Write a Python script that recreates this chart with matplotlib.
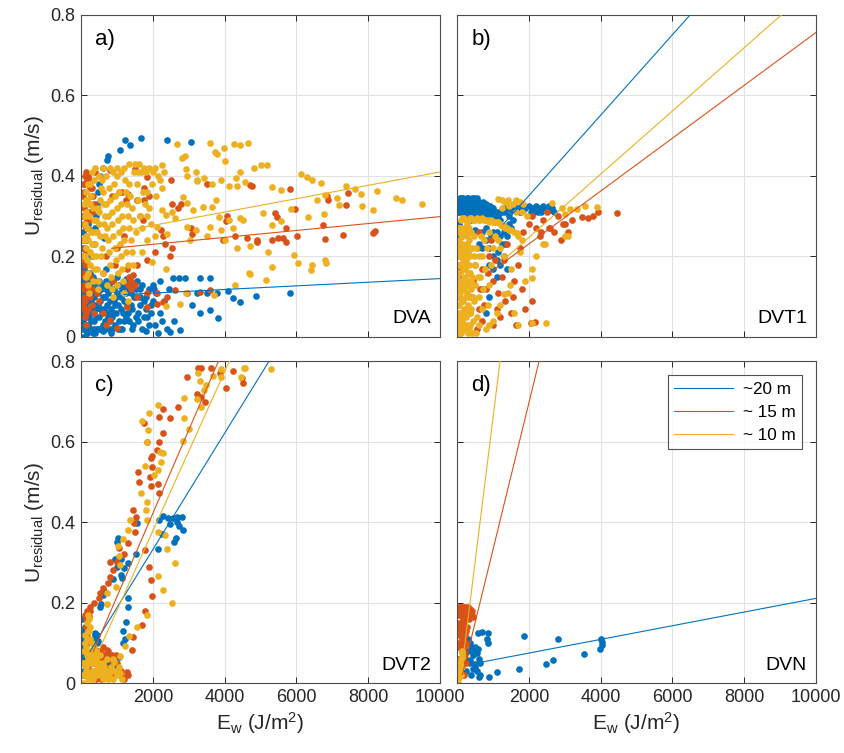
import matplotlib
matplotlib.use("Agg")
import matplotlib.pyplot as plt

plt.rcParams['font.family'] = ['Liberation Sans', 'DejaVu Sans']
plt.rcParams['mathtext.default'] = 'regular'

# colours for the three depths
colors = ['#0072BD', '#D95319', '#EDB120']
labels = ['~20 m', '~ 15 m', '~ 10 m']
panels = ['a)', 'b)', 'c)', 'd)']
sites = ['DVA', 'DVT1', 'DVT2', 'DVN']

# ---- panel a (DVA) ----
a_blue = [(300,0.20),(350,0.23),(400,0.27),(420,0.30),(450,0.33),(480,0.36),(500,0.38),(530,0.40),(620,0.42),
          (710,0.44),(760,0.45),(1090,0.465),(1220,0.49),(1370,0.477),(1660,0.494),(2390,0.489),(3055,0.485),
          (2200,0.14),(2570,0.146),(2720,0.146),(2890,0.146),(3310,0.147),(3590,0.147),(2000,0.13),
          (3220,0.109),(3080,0.08),(3315,0.06),(3590,0.067),(3820,0.047),(2760,0.017),(2480,0.012),(4240,0.097),
          (4430,0.087),(4875,0.103),(5813,0.109),(3800,0.11),(4100,0.115),(3500,0.11),
          (50,0.02),(80,0.05),(120,0.08),(60,0.11),(150,0.13),(100,0.15),(200,0.03),(250,0.06),(230,0.1),
          (300,0.12),(280,0.02),(350,0.04),(380,0.08),(420,0.11),(450,0.14),(400,0.01),(500,0.05),(520,0.09),
          (560,0.12),(600,0.03),(640,0.07),(680,0.1),(700,0.14),(750,0.05),(780,0.02),(820,0.09),(860,0.12),
          (900,0.06),(950,0.03),(980,0.1),(1050,0.13),(1100,0.07),(1150,0.02),(1200,0.09),(1250,0.05),
          (1300,0.12),(1400,0.08),(1450,0.03),(1500,0.1),(1550,0.14),(1600,0.06),(1700,0.02),(1750,0.09),
          (1850,0.05),(1900,0.12),(1950,0.08),(2050,0.03),(2100,0.11),(2200,0.06),(2300,0.09),(2400,0.02),
          (2600,0.04),(2450,0.12),(10,0.02),(20,0.06),(30,0.1),(15,0.14),(40,0.18),(25,0.22),(60,0.04),
          (70,0.08),(90,0.12),(110,0.16),(130,0.2),(160,0.24),(200,0.28),(180,0.01),(190,0.07),(330,0.15),
          (640,0.245),(700,0.17),(1000,0.15),(1250,0.145),(1650,0.12),(2150,0.01),(1800,0.015)]
a_blue_dense = [(30,0.04),(70,0.13),(110,0.03),(140,0.1),(170,0.05),(210,0.14),(240,0.09),(270,0.04),
                (310,0.07),(340,0.11),(370,0.02),(390,0.13),(430,0.05),(470,0.08),(490,0.12),(540,0.02),
                (580,0.06),(610,0.1),(660,0.04),(690,0.12),(720,0.08),(760,0.11),(800,0.04),(840,0.07),
                (880,0.14),(920,0.09),(970,0.06),(1010,0.11),(1060,0.04),(1120,0.1),(1170,0.06),(1220,0.13),
                (1280,0.08),(1330,0.04),(1380,0.11),(1430,0.07),(1480,0.13),(1530,0.05),(50,0.09),(20,0.12),
                (90,0.17),(60,0.2),(130,0.15),(250,0.16),(60,0.26),(160,0.01),(320,0.01),(460,0.02),
                (620,0.015),(850,0.02),(1030,0.02),(1630,0.1),(1800,0.07),(2000,0.09),(2250,0.04),
                (5,0.05),(35,0.08),(55,0.0),(75,0.11),(95,0.03),(115,0.13),(135,0.06),(155,0.09),(175,0.12),
                (195,0.02),(215,0.05),(235,0.13),(255,0.1),(290,0.09),(310,0.13),(360,0.1),(410,0.07),
                (440,0.02),(480,0.11),(510,0.14),(550,0.07),(590,0.13),(630,0.1),(670,0.02),(710,0.06),
                (740,0.12),(790,0.13),(830,0.01),(870,0.05),(910,0.12),(940,0.08),(990,0.13),(1040,0.08),
                (1080,0.02),(1130,0.12),(1190,0.04),(1240,0.11),(1300,0.06),(1350,0.13),(1420,0.02),
                (1470,0.1),(1520,0.12),(1580,0.04),(1640,0.08),(1700,0.13),(1760,0.05),(1820,0.1),
                (1880,0.03),(1960,0.06),(2020,0.12)]
a_orange = [(100,0.40),(150,0.41),(200,0.40),(260,0.39),(300,0.37),(330,0.35),(350,0.33),(300,0.31),(250,0.29),
            (200,0.27),(150,0.25),(120,0.22),(100,0.19),(90,0.16),(80,0.13),(70,0.10),(80,0.07),(100,0.05),
            (150,0.03),(60,0.38),(50,0.35),(40,0.3),(390,0.41),(810,0.415),(1500,0.418),(1830,0.398),
            (2500,0.39),(1756,0.34),(1900,0.35),(2540,0.33),(1740,0.29),(2220,0.266),(2290,0.25),(2340,0.23),
            (2540,0.22),(2490,0.2),(2060,0.21),(1830,0.19),(1550,0.18),(1270,0.17),(960,0.18),(2700,0.32),
            (2780,0.33),(3060,0.27),(3100,0.257),(3510,0.381),(4040,0.287),(4060,0.30),(4710,0.377),
            (3960,0.24),(4290,0.25),(4610,0.246),(4890,0.24),(440,0.108),(500,0.09),(620,0.059),(810,0.042),
            (995,0.022),(1270,0.075),(1550,0.1),(1830,0.108),(2110,0.108),(2390,0.1),(2620,0.116),(2950,0.108),
            (3310,0.112),(3590,0.116),(2110,0.083),(2290,0.087),(1830,0.075),(1300,0.13),(1350,0.15),
            (1400,0.14),(1450,0.155),(1500,0.13),(1380,0.12),(4755,0.375),(5822,0.367),(5961,0.317),
            (5404,0.307),(5468,0.297),(5710,0.271),(4894,0.237),(5312,0.24),(5496,0.246),(5635,0.246),
            (5700,0.237),(6025,0.25),(6732,0.278),(6797,0.243),(6871,0.34),(6850,0.35),(7428,0.357),
            (7382,0.327),(7289,0.253),(8142,0.259),(8190,0.264),(250,0.15),(300,0.12),(350,0.06),(700,0.03)]
a_orange_band = [(120,0.38),(180,0.39),(240,0.37),(280,0.35),(260,0.33),(220,0.31),(180,0.29),(140,0.27),
                 (110,0.24),(130,0.21),(110,0.18),(120,0.15),(100,0.12),(110,0.09),(130,0.06),(60,0.08),
                 (50,0.12),(40,0.16),(50,0.2),(60,0.24),(70,0.28),(80,0.32),(90,0.36),(200,0.07),(250,0.1),
                 (300,0.08),(200,0.12),(850,0.35),(1050,0.36),(1300,0.355),(1550,0.34),(1750,0.37),
                 (1650,0.30),(1200,0.25),(1000,0.22),(700,0.2),(600,0.16),(900,0.14),(1150,0.36),(1250,0.34)]
a_yellow = [(2666,0.48),(3590,0.481),(3730,0.46),(3980,0.47),(4260,0.479),(4440,0.478),(4650,0.481),
            (2800,0.444),(2900,0.45),(3800,0.455),(4000,0.437),(4440,0.411),(4820,0.419),(5190,0.427),
            (2260,0.427),(2300,0.41),(2920,0.418),(2960,0.40),(3190,0.41),(3230,0.39),(3240,0.387),
            (3420,0.395),(3660,0.38),(3890,0.39),(4310,0.395),(4130,0.376),(4350,0.375),(4580,0.385),
            (2260,0.369),(2840,0.349),(2940,0.332),(3120,0.316),(3400,0.324),(3660,0.324),(3750,0.34),
            (3850,0.299),(4130,0.29),(4420,0.295),(4510,0.29),(2260,0.316),(2360,0.304),(2540,0.31),
            (2620,0.295),(2940,0.274),(3210,0.266),(3590,0.274),(3900,0.266),(4240,0.27),(4720,0.225),
            (4350,0.221),(4000,0.24),(3500,0.25),(3040,0.24),(2400,0.257),(2110,0.274),(1830,0.24),
            (1690,0.21),(1970,0.186),(2360,0.17),(2760,0.082),(2360,0.078),(2930,0.108),(3700,0.105),
            (4280,0.129),(4700,0.157),(5005,0.428),(5312,0.372),(5562,0.364),(6120,0.406),(6290,0.398),
            (6440,0.39),(6685,0.382),(6790,0.353),(6580,0.34),(7140,0.345),(7180,0.327),(7390,0.375),
            (7620,0.368),(7810,0.354),(7830,0.325),(8120,0.315),(8240,0.362),(8760,0.346),(8950,0.34),
            (9508,0.33),(5080,0.309),(5330,0.278),(5560,0.289),(5840,0.318),(6330,0.297),(6760,0.305),
            (5218,0.21),(5930,0.204),(6030,0.185),(5310,0.174),(4690,0.158),(5150,0.142),(6440,0.18),
            (6400,0.166),(6800,0.19),(6820,0.185)]
a_yellow_band = [(100,0.28),(130,0.25),(150,0.22),(170,0.19),(190,0.16),(200,0.13),(210,0.11),(230,0.3),
                 (260,0.33),(290,0.35),(320,0.32),(350,0.29),(380,0.26),(400,0.23),(420,0.2),(440,0.17),
                 (460,0.14),(480,0.12),(500,0.31),(530,0.34),(560,0.37),(590,0.39),(620,0.36),(650,0.33),
                 (680,0.3),(710,0.27),(740,0.24),(770,0.21),(800,0.18),(830,0.15),(860,0.12),(900,0.41),
                 (930,0.38),(960,0.35),(990,0.32),(1020,0.29),(1050,0.26),(1080,0.23),(1110,0.2),(1140,0.17),
                 (1170,0.14),(1200,0.42),(1230,0.39),(1260,0.36),(1290,0.33),(1320,0.3),(1350,0.27),(1380,0.24),
                 (1410,0.21),(1440,0.18),(1470,0.41),(1500,0.43),(1550,0.38),(1600,0.34),(1650,0.3),(1700,0.27),
                 (1750,0.42),(1800,0.41),(1850,0.36),(1900,0.32),(1950,0.28),(2000,0.41),(2050,0.25),(2100,0.35),
                 (150,0.31),(180,0.34),(120,0.2),(140,0.15),(300,0.41),(400,0.42),(700,0.4),(600,0.42),
                 (250,0.18),(330,0.14),(550,0.2),(610,0.16),(720,0.13),(900,0.1),(1000,0.13),(1200,0.11),
                 (1300,0.09),(1000,0.42),(1100,0.41),(1350,0.43),(80,0.24),(60,0.2),(90,0.33),
                 (160,0.27),(200,0.24),(240,0.21),(270,0.26),(310,0.23),(340,0.2),(370,0.17),(410,0.29),
                 (450,0.26),(470,0.32),(510,0.28),(540,0.25),(580,0.22),(630,0.28),(660,0.25),(700,0.33),
                 (750,0.3),(780,0.37),(820,0.34),(850,0.31),(870,0.28),(890,0.25),(940,0.22),(980,0.19),
                 (1030,0.16),(1060,0.36),(1100,0.33),(1130,0.3),(1160,0.27),(1190,0.24),(1250,0.21),
                 (1300,0.18),(1330,0.38),(1370,0.35),(1420,0.32),(1460,0.29),(1530,0.26),(1580,0.41),
                 (1620,0.43),(1680,0.41),(1720,0.36),(1780,0.33),(1830,0.3),(1900,0.42),(1980,0.38),
                 (2050,0.42),(2150,0.4),(2200,0.39),(250,0.38),(350,0.39),(500,0.4),(800,0.42),(1000,0.4),
                 (110,0.3),(130,0.34),(150,0.36),(200,0.38),(300,0.26)]

# ---- panel b (DVT1) ----
b_blue = [(30,0.34),(100,0.345),(200,0.34),(300,0.335),(400,0.34),(500,0.33),(600,0.335),(700,0.325),
          (800,0.33),(900,0.32),(60,0.31),(150,0.32),(250,0.31),(350,0.305),(450,0.31),(550,0.3),
          (650,0.305),(750,0.3),(850,0.295),(950,0.3),(1050,0.295),(1200,0.31),(1300,0.32),(1400,0.32),
          (1500,0.315),(1700,0.32),(1800,0.325),(1900,0.32),(2000,0.325),(2100,0.32),(2200,0.325),
          (2300,0.32),(2450,0.32),(2600,0.315),(2700,0.31),(20,0.05),(40,0.1),(30,0.15),(50,0.2),
          (20,0.25),(60,0.28),(80,0.02),(90,0.12),(100,0.22),(700,0.26),(800,0.24),(900,0.22),(1000,0.2),
          (1100,0.19),(1150,0.21),(1300,0.2),(1250,0.23),(950,0.25),(600,0.23),(1400,0.25),(1500,0.27),
          (700,0.12),(800,0.06),(900,0.1),(1400,0.17),(200,0.3),(400,0.29),(1100,0.26),(1200,0.29)]
b_blue_strip = [(50,0.325),(120,0.33),(170,0.345),(230,0.325),(280,0.345),(330,0.32),(380,0.33),(430,0.325),
                (480,0.345),(530,0.32),(580,0.325),(630,0.32),(680,0.31),(730,0.315),(780,0.31),(830,0.315),
                (880,0.305),(930,0.31),(980,0.31),(1000,0.32),(1100,0.31),(1150,0.3),(1250,0.31),(1350,0.31),
                (1450,0.3),(1550,0.32),(1600,0.325),(1750,0.31),(1850,0.315),(2050,0.31),(2150,0.31),
                (2250,0.31),(2350,0.31),(2400,0.325),(2550,0.325),(2650,0.32),(300,0.27),(500,0.265),
                (700,0.22),(800,0.27),(1000,0.26),(1200,0.25),(1300,0.26),(1350,0.23),(1200,0.18),
                (1000,0.17),(1100,0.15),(900,0.18),(1450,0.28),(1550,0.29),
                (10,0.33),(70,0.345),(140,0.34),(190,0.33),(260,0.335),(310,0.345),(360,0.33),(410,0.345),
                (460,0.33),(510,0.34),(560,0.345),(610,0.33),(660,0.325),(710,0.335),(760,0.32),(810,0.325),
                (860,0.32),(910,0.325),(960,0.32),(40,0.32),(90,0.31),(130,0.315),(180,0.31),(270,0.3),
                (320,0.31),(420,0.3),(470,0.32),(520,0.31),(570,0.31),(620,0.305),(720,0.305)]
b_orange = [(50,0.02),(100,0.05),(150,0.09),(80,0.13),(120,0.17),(200,0.21),(150,0.25),(250,0.27),
            (300,0.02),(350,0.06),(400,0.1),(450,0.14),(500,0.18),(550,0.22),(600,0.26),(700,0.04),
            (750,0.08),(800,0.12),(850,0.16),(900,0.2),(950,0.24),(1000,0.03),(1100,0.07),(1150,0.11),
            (1250,0.15),(1300,0.19),(1400,0.23),(1500,0.06),(1550,0.1),(1600,0.14),(1700,0.18),(1750,0.22),
            (1850,0.26),(2000,0.28),(2100,0.3),(2200,0.27),(2300,0.25),(2400,0.29),(2500,0.31),(2600,0.27),
            (2700,0.26),(2800,0.3),(2900,0.24),(3000,0.28),(3100,0.26),(3200,0.29),(3473,0.299),
            (3659,0.296),(3800,0.3),(3938,0.31),(4465,0.307),(2945,0.28),(2570,0.27),(2340,0.26),
            (2173,0.038),(2050,0.035),(1900,0.07),(2100,0.09),(1800,0.12),(1650,0.03),
            (650,0.12),(700,0.17),(1000,0.14),(1050,0.19),(1200,0.05),(1350,0.09),(600,0.07),(550,0.02)]
b_yellow = [(10,0.0),(30,0.02),(50,0.04),(20,0.06),(60,0.08),(10,0.1),(40,0.12),(70,0.14),(20,0.16),
            (50,0.18),(80,0.2),(30,0.22),(60,0.24),(20,0.26),(90,0.27),(120,0.01),(150,0.05),(180,0.09),
            (130,0.13),(160,0.17),(190,0.21),(140,0.25),(220,0.03),(250,0.07),(280,0.11),(230,0.15),
            (260,0.19),(290,0.23),(320,0.02),(350,0.06),(380,0.12),(330,0.18),(360,0.22),(400,0.26),
            (450,0.04),(480,0.09),(430,0.15),(470,0.2),(520,0.01),(560,0.05),(600,0.1),(650,0.15),
            (700,0.2),(750,0.24),(800,0.02),(850,0.08),(900,0.13),(950,0.18),(1000,0.22),
            (100,0.29),(200,0.295),(300,0.29),(400,0.295),(500,0.29),(600,0.29),(700,0.295),(800,0.29),
            (900,0.285),(1000,0.285),(1100,0.285),(1200,0.28),(1300,0.275),(1400,0.27),(1500,0.265),
            (1600,0.26),(1700,0.25),(1800,0.24),(1150,0.344),(1250,0.34),(1350,0.335),(1430,0.34),
            (1550,0.33),(1650,0.34),(1755,0.336),(1850,0.33),(1250,0.32),(1450,0.325),(1650,0.31),
            (1800,0.31),(1950,0.3),(2640,0.332),(2915,0.32),(3150,0.318),(3340,0.318),(3570,0.326),
            (3890,0.324),(3000,0.305),(1660,0.258),(1750,0.21),(2080,0.17),(2080,0.146),(1900,0.14),
            (1470,0.13),(1300,0.106),(1200,0.08),(1100,0.06),(1000,0.04),(2080,0.034),(2490,0.034),
            (2390,0.23),(3000,0.25),(3100,0.25),(2450,0.23),(2200,0.2),(1430,0.109),(1500,0.17),
            (1300,0.2),(1200,0.22),(900,0.03),(1600,0.06),(1700,0.03)]
b_yellow_block = [(5,0.03),(15,0.08),(25,0.13),(35,0.18),(45,0.23),(55,0.27),(65,0.01),(75,0.06),(85,0.11),
                  (95,0.16),(105,0.21),(115,0.26),(125,0.04),(135,0.09),(145,0.14),(155,0.19),(165,0.23),
                  (175,0.27),(185,0.02),(195,0.07),(205,0.12),(215,0.17),(225,0.22),(235,0.26),(245,0.05),
                  (255,0.1),(265,0.14),(275,0.2),(285,0.25),(295,0.01),(305,0.08),(315,0.13),(325,0.24),
                  (335,0.27),(345,0.1),(355,0.16),(365,0.03),(375,0.2),(385,0.07),(395,0.14),(410,0.22),
                  (420,0.01),(440,0.1),(460,0.25),(490,0.13),(510,0.18),(540,0.22),(580,0.15),(620,0.2),
                  (660,0.25),(720,0.12),(780,0.17),(830,0.22),(880,0.26),(1050,0.25),(1150,0.24),(620,0.03),
                  (700,0.07),(150,0.295),(250,0.29),(350,0.295),(450,0.29),(550,0.295),(650,0.29),(750,0.29),
                  (850,0.29),(950,0.29),(1050,0.285),(1150,0.285),(1250,0.275),(1350,0.27),(1450,0.265),
                  (0,0.05),(10,0.15),(20,0.2),(30,0.27),(40,0.05),(70,0.18),(80,0.1),(100,0.03),(110,0.13),
                  (150,0.22),(170,0.12),(200,0.26),(210,0.06),(240,0.18),(270,0.03),(280,0.28),(300,0.16),
                  (310,0.21),(330,0.06),(350,0.26)]

# ---- panel c (DVT2) ----
c_blue = [(2806,0.414),(2660,0.414),(2560,0.41),(2280,0.416),(2160,0.406),(2420,0.41),(2480,0.395),
          (2680,0.4),(2740,0.39),(2830,0.381),(2600,0.35),(2640,0.361),(2260,0.37),(2150,0.333),
          (1550,0.398),(1520,0.32),(1300,0.3),(1200,0.287),(1140,0.262),(1100,0.27),(1030,0.36),
          (1000,0.35),(950,0.31),(570,0.198),(540,0.19),(400,0.125),(420,0.113),(470,0.105),(1320,0.211),
          (1320,0.19),(1240,0.153),(1180,0.131),(1230,0.111),(1180,0.099),(1060,0.066),(710,0.071),
          (700,0.05),(720,0.04),(20,0.02),(40,0.05),(60,0.09),(80,0.12),(100,0.14),(50,0.07),(30,0.11),
          (400,0.12),(450,0.1),(420,0.11),(600,0.06),(700,0.07),(800,0.05),(900,0.06),(1000,0.04),
          (350,0.06),(600,0.22),(650,0.23),(900,0.26),(1000,0.29),(1100,0.31),
          (10,0.03),(15,0.08),(25,0.13),(35,0.16),(60,0.12),(70,0.02),(90,0.06),(110,0.09),(150,0.04),
          (130,0.12),(380,0.1),(440,0.12),(460,0.08),(350,0.11)]
c_orange = [(3268,0.784),(3350,0.784),(3612,0.783),(3870,0.77),(4240,0.777),(4470,0.758),(4500,0.746),
            (4030,0.733),(2944,0.76),(3220,0.719),(3330,0.712),(3447,0.7),(2713,0.686),(2480,0.658),
            (2290,0.682),(2180,0.662),(2275,0.621),(2180,0.599),(1750,0.646),(1830,0.6),(2110,0.58),
            (1990,0.565),(1940,0.56),(1980,0.537),(1920,0.513),(2150,0.494),(1960,0.49),(2160,0.472),
            (1600,0.524),(1620,0.5),(1440,0.43),(1530,0.414),(1480,0.397),(1510,0.376),(1300,0.349),
            (1060,0.335),(1200,0.322),(1010,0.302),(810,0.302),(900,0.282),(810,0.265),(765,0.249),
            (625,0.236),(530,0.224),(490,0.211),(370,0.2),(260,0.179),(210,0.166),(1780,0.33),(1900,0.29),
            (1940,0.257),(1970,0.216),(1780,0.18),(1690,0.145),(1460,0.116),(1420,0.083),(1270,0.029),
            (1180,0.016),(530,0.08),(720,0.082),(300,0.02),(400,0.05),(500,0.03),(600,0.07),(700,0.04),
            (800,0.06),(900,0.02),(1000,0.05),(1100,0.03),(1200,0.01),(350,0.08),(450,0.06),(550,0.01),
            (650,0.02),(750,0.08),(850,0.07),(200,0.1),(150,0.14),(100,0.17),(250,0.03),
            (200,0.04),(280,0.07),(380,0.03),(480,0.08),(580,0.05),(680,0.07),(780,0.03),(880,0.05),
            (980,0.07),(1080,0.02),(1300,0.02),(320,0.05),(420,0.01),(520,0.06),(620,0.09),(160,0.12),
            (130,0.16),(180,0.18),(240,0.19)]
c_yellow = [(3270,0.77),(3300,0.75),(3680,0.763),(3910,0.78),(3900,0.76),(4530,0.784),(4580,0.784),
            (5290,0.78),(4450,0.76),(3230,0.707),(3350,0.686),(3430,0.729),(3480,0.74),(2860,0.709),
            (2860,0.658),(3000,0.631),(2830,0.603),(2140,0.692),(1900,0.672),(1700,0.652),(1860,0.63),
            (1830,0.6),(2200,0.575),(2290,0.571),(2230,0.551),(2020,0.517),(2150,0.53),(1770,0.539),
            (1680,0.472),(1830,0.451),(1810,0.43),(1830,0.406),(1370,0.406),(1320,0.381),(1180,0.358),
            (1020,0.34),(1070,0.315),(1090,0.294),(980,0.24),(720,0.224),(720,0.196),(2150,0.376),
            (2330,0.368),(2390,0.333),(2620,0.299),(2150,0.266),(2290,0.232),(2520,0.2),(1830,0.17),
            (1550,0.141),(1330,0.117),(1230,0.092),(1090,0.067),(910,0.054),(1090,0.025),
            (50,0.0),(100,0.02),(150,0.04),(200,0.06),(250,0.08),(300,0.1),(120,0.12),(160,0.15),
            (200,0.17),(80,0.08),(350,0.05),(400,0.03),(450,0.02),(500,0.05),(550,0.03),(600,0.01),
            (650,0.04),(700,0.02),(750,0.01),(800,0.03),(900,0.01),(1000,0.02),(300,0.03),(200,0.01),
            (250,0.14),(180,0.11),(220,0.13),(230,0.16),(120,0.05),(280,0.06),(330,0.02),(380,0.07),
            (130,0.03),(170,0.07),(210,0.02),(260,0.05),(310,0.07),(360,0.09),(410,0.06),(460,0.04),
            (520,0.07),(570,0.02),(620,0.05),(680,0.03),(730,0.06),(780,0.02),(840,0.04),(880,0.06),
            (950,0.03),(1050,0.04),(1150,0.01),(140,0.09),(190,0.13),(100,0.1),(60,0.05),(40,0.02),
            (240,0.11),(270,0.01),(340,0.01),(430,0.08)]

# ---- panel d (DVN) ----
d_blue = [(100,0.02),(150,0.04),(200,0.06),(250,0.03),(300,0.08),(350,0.05),(400,0.09),(450,0.07),
          (500,0.04),(550,0.03),(600,0.06),(650,0.05),(200,0.1),(300,0.11),(350,0.1),(500,0.09),
          (150,0.08),(400,0.02),(600,0.015),(891,0.016),(1124,0.027),(1735,0.036),(1877,0.118),
          (2478,0.048),(2680,0.059),(2825,0.111),(3538,0.072),(3985,0.084),(4030,0.095),(4030,0.103),
          (4010,0.11),(594,0.126),(700,0.128),(873,0.124),(830,0.111),(850,0.1),(594,0.086),(455,0.078),
          (365,0.057),(500,0.048),(455,0.036),(545,0.075),(263,0.057),(650,0.02)]
d_orange = [(10,0.0),(20,0.03),(30,0.06),(40,0.09),(50,0.12),(60,0.15),(70,0.18),(80,0.19),(100,0.17),
            (120,0.14),(140,0.11),(160,0.08),(180,0.05),(200,0.02),(220,0.12),(240,0.16),(260,0.185),
            (300,0.18),(340,0.175),(380,0.17),(420,0.17),(450,0.165),(150,0.19),(200,0.19),(250,0.1),
            (280,0.14),(320,0.16),(100,0.06),(60,0.03),(130,0.02),(230,0.07),(180,0.16),(110,0.1),
            (15,0.05),(25,0.1),(35,0.14),(45,0.17),(55,0.19),(90,0.13),(130,0.08),(150,0.13),(170,0.11),
            (190,0.14),(210,0.17),(230,0.19),(270,0.165),(310,0.19),(350,0.185),(390,0.18),(430,0.18),
            (80,0.09),(70,0.05),(120,0.18),(160,0.17),(200,0.15),(240,0.13),(190,0.09),(250,0.05)]
d_yellow = [(20,0.0),(40,0.01),(60,0.02),(80,0.03),(100,0.045),(120,0.06),(140,0.075),(150,0.08),
            (90,0.05),(70,0.035),(110,0.02),(130,0.04),(50,0.015),(160,0.065)]

# fitted lines: slope, intercept, start of the line
fit_slope = [[4.5e-6, 8.6e-6, 1.66e-5], [1.0e-4, 6.57e-5, 7.86e-5],
             [1.446e-4, 2.07e-4, 1.977e-4], [1.70e-5, 3.645e-4, 7.18e-4]]
fit_icpt = [[0.1, 0.213, 0.244], [0.151, 0.0997, 0.090],
            [0.043, 0.008, -0.0168], [0.041, -0.033, -0.06]]
fit_x0 = [[1200, 850, 1450], [1300, 800, 1300], [250, 340, 400], [594, 150, 130]]

data = [[a_blue + a_blue_dense, a_orange + a_orange_band, a_yellow + a_yellow_band],
        [b_blue + b_blue_strip, b_orange, b_yellow + b_yellow_block],
        [c_blue, c_orange, c_yellow], [d_blue, d_orange, d_yellow]]

fig = plt.figure(figsize=(8.44, 7.53), dpi=100)
pos = [(0.096, 0.5525), (0.5415, 0.5525), (0.096, 0.0926), (0.5415, 0.0926)]

for i in range(4):
    ax = fig.add_axes([pos[i][0], pos[i][1], 0.4254, 0.4276])
    for j in range(3):
        xs = [p[0] for p in data[i][j]]
        ys = [p[1] for p in data[i][j]]
        ax.plot(xs, ys, 'o', color=colors[j], ms=4.8, mec='none', zorder=2)
    for j in range(3):
        m, b, x0 = fit_slope[i][j], fit_icpt[i][j], fit_x0[i][j]
        ax.plot([x0, 10000], [b + m * x0, b + m * 10000], '-', color=colors[j], lw=0.8,
                label=labels[j], zorder=3)
    ax.set_xlim(0, 10000)
    ax.set_ylim(0, 0.8)
    ax.set_xticks([2000, 4000, 6000, 8000, 10000])
    ax.set_yticks([0, 0.2, 0.4, 0.6, 0.8])
    ax.set_yticklabels(['0', '0.2', '0.4', '0.6', '0.8'])
    ax.grid(True, color='#e2e2e2', lw=0.8)
    ax.set_axisbelow(True)
    ax.tick_params(direction='in', top=True, right=True, length=4, width=0.7,
                   labelsize=13, colors='#262626', pad=4)
    for s in ax.spines.values():
        s.set_color('#4d4d4d')
        s.set_linewidth(0.8)
    if i % 2 == 1:
        ax.set_yticklabels([])
    else:
        ax.set_ylabel(r'U$_{residual}$ (m/s)', fontsize=15, color='#262626', labelpad=3)
    if i < 2:
        ax.set_xticklabels([])
    else:
        ax.set_xlabel(r'E$_w$ (J/m$^2$)', fontsize=15, color='#262626', labelpad=3)
    ax.text(0.04, 0.925, panels[i], transform=ax.transAxes, fontsize=16, va='center')
    ax.text(0.975, 0.03, sites[i], transform=ax.transAxes, fontsize=14, ha='right', va='bottom')
    if i == 3:
        lg = ax.legend(loc='upper right', fontsize=12.3, handlelength=3.4, frameon=True,
                       fancybox=False, edgecolor='#262626', borderaxespad=0.8,
                       labelspacing=0.46, handletextpad=0.6)
        lg.get_frame().set_linewidth(0.8)

fig.savefig('out.png', dpi=100)
